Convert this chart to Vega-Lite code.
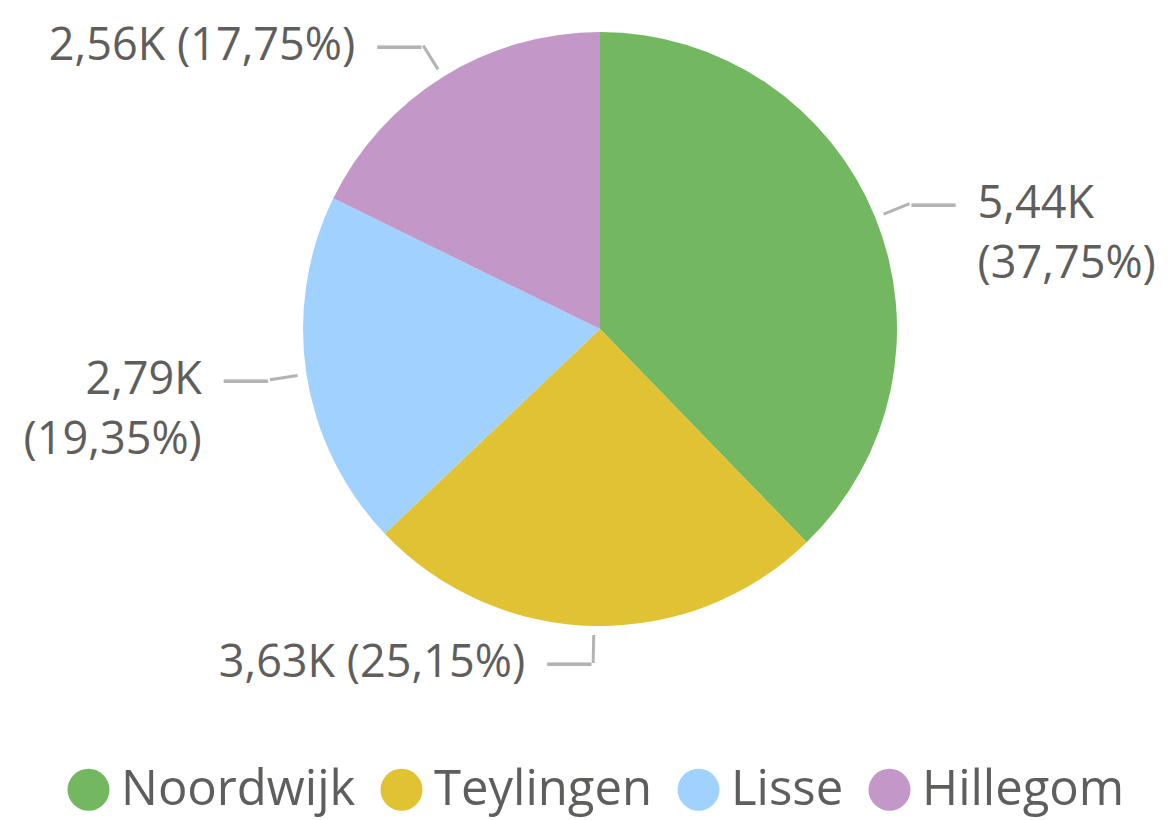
{
  "$schema": "https://vega.github.io/schema/vega-lite/v6.json",
  "width": 1200,
  "height": 658,
  "autosize": "none",
  "padding": {"left": 0, "top": 0, "right": 0, "bottom": 162},
  "background": "white",
  "config": {"view": {"stroke": null}},
  "data": {"values": [
    {"name": "Noordwijk", "value": 5440, "label": "5,44K\n(37,75%)"},
    {"name": "Teylingen", "value": 3624, "label": "3,63K (25,15%)"},
    {"name": "Lisse", "value": 2788, "label": "2,79K\n(19,35%)"},
    {"name": "Hillegom", "value": 2558, "label": "2,56K (17,75%)"}
  ]},
  "encoding": {
    "theta": {"field": "value", "type": "quantitative", "stack": "normalize"},
    "order": {"field": "value", "type": "quantitative", "sort": "descending"}
  },
  "layer": [
    {
      "mark": {"type": "arc", "radius": 297},
      "encoding": {
        "color": {
          "field": "name", "type": "nominal",
          "scale": {"domain": ["Noordwijk", "Teylingen", "Lisse", "Hillegom"], "range": ["#73B761", "#E0C232", "#A0D1FF", "#C497C9"]},
          "legend": {
            "orient": "none", "legendX": 64, "legendY": 765, "direction": "horizontal", "title": null,
            "symbolType": "circle", "symbolSize": 1764, "symbolStrokeWidth": 0,
            "labelFontSize": 49, "labelFont": "Open Sans", "labelColor": "#605E5C",
            "labelOffset": 8, "columnPadding": 21, "padding": 0, "labelLimit": 500
          }
        }
      }
    },
    {
      "mark": {"type": "arc", "radius": 334, "radius2": 306, "padAngle": 3, "fill": "transparent", "stroke": "#B3B3B3", "strokeWidth": 3},
      "encoding": {"detail": {"field": "name", "type": "nominal"}}
    },
    {
      "mark": {"type": "text", "radius": 334, "text": "—", "font": "Open Sans", "fontSize": 48, "color": "#B3B3B3", "baseline": "middle",
        "align": {"expr": "datum.value_start + datum.value_end < 1 ? 'left' : 'right'"}},
      "encoding": {"detail": {"field": "name", "type": "nominal"}}
    },
    {
      "mark": {"type": "text", "radius": 334, "font": "Open Sans", "fontSize": 45, "color": "#605E5C", "baseline": "middle", "lineBreak": "\n", "lineHeight": 60,
        "align": {"expr": "datum.value_start + datum.value_end < 1 ? 'left' : 'right'"},
        "dx": {"expr": "datum.value_start + datum.value_end < 1 ? 68 : -68"}},
      "encoding": {"text": {"field": "label", "type": "nominal"}, "detail": {"field": "name", "type": "nominal"}}
    }
  ]
}
